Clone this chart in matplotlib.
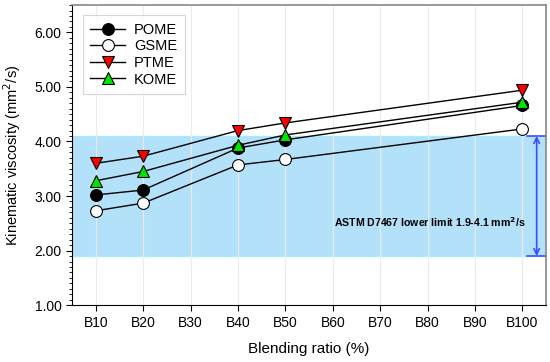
import numpy as np
import matplotlib.pyplot as plt
from matplotlib.ticker import MultipleLocator

plt.rcParams['font.family'] = ['Liberation Sans', 'DejaVu Sans']

# Data
blends = ['B10', 'B20', 'B30', 'B40', 'B50', 'B60', 'B70', 'B80', 'B90', 'B100']
measured_idx = [0, 1, 3, 4, 9]  # B10, B20, B40, B50, B100
pome = [3.02, 3.11, 3.88, 4.03, 4.66]
gsme = [2.73, 2.87, 3.57, 3.67, 4.23]
ptme = [3.60, 3.73, 4.20, 4.34, 4.94]
kome = [3.28, 3.45, 3.93, 4.12, 4.72]
limit_low, limit_high = 1.9, 4.1

fig = plt.figure(figsize=(5.5, 3.62), dpi=100)
ax = fig.add_axes([0.131, 0.157, 0.862, 0.829])

# ASTM band
ax.axhspan(limit_low, limit_high, facecolor='#b3e1fa', edgecolor='none', zorder=0)
ax.axhline(limit_high, color='#a8ecfc', lw=1, zorder=0.5)
ax.axhline(limit_low, color='#a8ecfc', lw=1, zorder=0.5)

for x in range(len(blends)):
    ax.axvline(x, color='#ebebeb', lw=0.8, zorder=0.6)

series = [
    ('POME', pome, 'o', 'black'),
    ('GSME', gsme, 'o', 'white'),
    ('PTME', ptme, 'v', 'red'),
    ('KOME', kome, '^', '#00e600'),
]
for name, vals, mk, fc in series:
    ax.plot(measured_idx, vals, color='black', lw=1, marker=mk, markersize=8.5,
            markerfacecolor=fc, markeredgecolor='black', markeredgewidth=0.8,
            label=name, zorder=3)

# range arrow
ax.plot([9.1, 9.5], [limit_high, limit_high], color='#3b4cff', lw=1.2, zorder=2, clip_on=False)
ax.plot([9.1, 9.5], [limit_low, limit_low], color='#3b4cff', lw=1.2, zorder=2, clip_on=False)
ax.annotate('', xy=(9.3, limit_low), xytext=(9.3, limit_high),
            arrowprops=dict(arrowstyle='<->', color='#3b4cff', lw=1.2,
                            shrinkA=0, shrinkB=0, mutation_scale=10))
ax.text(9.07, 2.53, 'ASTM D7467 lower limit 1.9-4.1 mm$^{\\mathbf{2}}$/s',
        ha='right', va='center', fontsize=7.6, fontweight='bold')

ax.set_xlim(-0.5, 9.5)
ax.set_ylim(1.0, 6.5)
ax.set_xticks(range(len(blends)))
ax.set_xticklabels(blends)
ax.set_yticks([1, 2, 3, 4, 5, 6])
ax.set_yticklabels(['%.2f' % v for v in [1, 2, 3, 4, 5, 6]])
ax.yaxis.set_minor_locator(MultipleLocator(0.1))
ax.tick_params(axis='both', which='major', labelsize=10, direction='out', length=4, width=0.8)
ax.tick_params(axis='y', which='minor', direction='out', length=2, width=0.6)

ax.spines['top'].set_color('#888888')
ax.spines['right'].set_color('#888888')
ax.spines['top'].set_linewidth(1.2)
ax.spines['right'].set_linewidth(1.2)

ax.set_xlabel('Blending ratio (%)', fontsize=11, labelpad=9)
ax.set_ylabel('Kinematic viscosity (mm$^2$/s)', fontsize=10.5, labelpad=8)

leg = ax.legend(loc='upper left', fontsize=10.5, frameon=True, fancybox=False,
                edgecolor='#cccccc', handlelength=2.4, borderpad=0.5,
                labelspacing=0.18, handletextpad=0.6, bbox_to_anchor=(0.008, 0.99))
leg.get_frame().set_linewidth(0.8)

fig.savefig('out.png', dpi=100)
